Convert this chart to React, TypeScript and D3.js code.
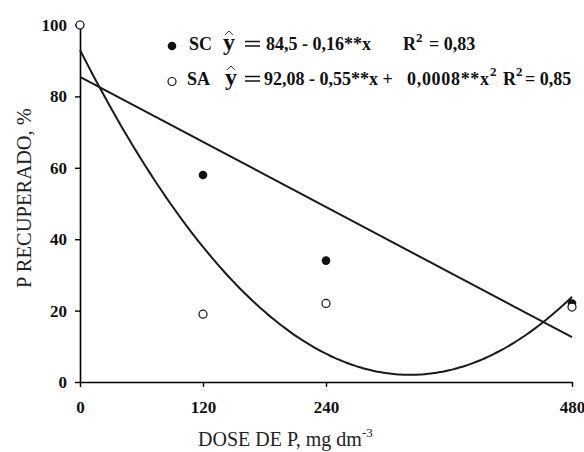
import { useEffect, useRef } from "react";
import * as d3 from "d3";

// doses (mg dm-3) and recovered P (%)
const doses = [0, 120, 240, 480];
const scValues = [100, 58, 34, 22];
const saValues = [100, 19, 22, 21];

const xTicks = [0, 120, 240, 480];
const yTicks = [0, 20, 40, 60, 80, 100];

// regression lines as drawn in the figure
const scFit = [85.5, -0.152]; // a + b*x
const saFit = [93, -0.565, 0.000877]; // a + b*x + c*x^2

const W = 584;
const H = 452;

const serif = "Liberation Serif, Times New Roman, serif";

const Hat = ({ x, y }: { x: number; y: number }) => (
  <path d={`M${x - 4},${y + 4} L${x},${y} L${x + 4},${y + 4}`} fill="none" stroke="#222" strokeWidth={0.9} />
);

// thin equals sign of the equation
const Equals = ({ x, y }: { x: number; y: number }) => (
  <path d={`M${x},${y} H${x + 15} M${x},${y + 4.5} H${x + 15}`} stroke="#111" strokeWidth={1.3} />
);

export default function App() {
  const ref = useRef<SVGGElement>(null);

  useEffect(() => {
    const g = d3.select(ref.current);
    g.selectAll("*").remove();

    const x = d3.scaleLinear().domain([0, 480]).range([80, 572]);
    const y = d3.scaleLinear().domain([0, 100]).range([382, 25]);

    // x axis
    const xAxis = g
      .append("g")
      .attr("transform", "translate(0," + y(0) + ")")
      .call(d3.axisBottom(x).tickValues(xTicks).tickSize(5).tickSizeOuter(0).tickPadding(14));
    xAxis.attr("font-family", serif);
    xAxis.select(".domain").attr("stroke-width", 1.6);
    xAxis.selectAll(".tick line").attr("stroke-width", 1.4);
    xAxis
      .selectAll(".tick text")
      .style("font-family", serif)
      .attr("font-weight", "bold")
      .attr("font-size", 17)
      .attr("fill", "#111");

    // y axis
    const yAxis = g
      .append("g")
      .attr("transform", "translate(" + x(0) + ",0)")
      .call(d3.axisLeft(y).tickValues(yTicks).tickSize(5).tickSizeOuter(0).tickPadding(8));
    yAxis.attr("font-family", serif);
    yAxis.select(".domain").attr("stroke-width", 1.6);
    yAxis.selectAll(".tick line").attr("stroke-width", 1.4);
    yAxis
      .selectAll(".tick text")
      .style("font-family", serif)
      .attr("font-weight", "bold")
      .attr("font-size", 17)
      .attr("fill", "#111");

    // fitted lines
    const xs = d3.range(0, 481, 4);
    const lin = d3
      .line<number>()
      .x((d) => x(d))
      .y((d) => y(scFit[0] + scFit[1] * d));
    const quad = d3
      .line<number>()
      .x((d) => x(d))
      .y((d) => y(saFit[0] + saFit[1] * d + saFit[2] * d * d))
      .curve(d3.curveBasis);

    g.append("path")
      .attr("d", lin([0, 480]) as string)
      .attr("fill", "none")
      .attr("stroke", "#1a1a1a")
      .attr("stroke-width", 2);
    g.append("path")
      .attr("d", quad(xs) as string)
      .attr("fill", "none")
      .attr("stroke", "#1a1a1a")
      .attr("stroke-width", 2);

    // points: SC filled underneath, SA hollow on top
    g.append("g")
      .selectAll("circle")
      .data(doses)
      .join("circle")
      .attr("cx", (d) => x(d))
      .attr("cy", (_, i) => y(scValues[i]))
      .attr("r", 4.3)
      .attr("fill", "#111");
    g.append("g")
      .selectAll("circle")
      .data(doses)
      .join("circle")
      .attr("cx", (d) => x(d))
      .attr("cy", (_, i) => y(saValues[i]))
      .attr("r", 4)
      .attr("fill", "white")
      .attr("stroke", "#111")
      .attr("stroke-width", 1.2);

    // axis titles
    g.append("text")
      .attr("x", 198)
      .attr("y", 446)
      .style("font-family", serif)
      .attr("font-size", 20)
      .attr("fill", "#222")
      .text("DOSE DE P, mg dm")
      .append("tspan")
      .attr("font-size", 13)
      .attr("dy", -9)
      .text("-3");

    g.append("text")
      .attr("transform", "translate(31,198) rotate(-90)")
      .attr("text-anchor", "middle")
      .style("font-family", serif)
      .attr("font-size", 20.5)
      .attr("fill", "#222")
      .text("P RECUPERADO, %");
  }, []);

  const b = { fontFamily: serif, fontWeight: "bold" as const, fill: "#111", fontSize: 18 };
  const sup = { fontFamily: serif, fontWeight: "bold" as const, fill: "#111", fontSize: 13 };

  return (
    <svg width={W} height={H} style={{ position: "absolute", left: 0, top: 0, background: "white" }}>
      <g ref={ref} />
      {/* legend row 1: SC */}
      <circle cx={172} cy={46} r={4.3} fill="#111" />
      <text x={189} y={50} style={b}>{"SC"}</text>
      <Hat x={229} y={31} />
      <text x={223} y={50} style={{ ...b, fontSize: 24 }}>{"y"}</text>
      <Equals x={245} y={41.5} />
      <text x={266} y={50} style={b}>{"84,5 - 0,16**x"}</text>
      <text x={403} y={50} style={b}>{"R"}</text>
      <text x={416} y={42} style={sup}>{"2"}</text>
      <text x={429} y={50} style={b}>{"= 0,83"}</text>
      {/* legend row 2: SA */}
      <circle cx={172} cy={81.5} r={4} fill="white" stroke="#111" strokeWidth={1.2} />
      <text x={187} y={85} style={b}>{"SA"}</text>
      <Hat x={231} y={66} />
      <text x={225} y={85} style={{ ...b, fontSize: 24 }}>{"y"}</text>
      <Equals x={245} y={76.5} />
      <text x={264} y={85} style={b}>{"92,08 - 0,55**x +"}</text>
      <text x={407} y={85} style={b} textLength={82} lengthAdjust="spacing">{"0,0008**x"}</text>
      <text x={490} y={76} style={sup}>{"2"}</text>
      <text x={503} y={85} style={b}>{"R"}</text>
      <text x={516} y={76} style={sup}>{"2"}</text>
      <text x={525} y={85} style={b}>{"= 0,85"}</text>
    </svg>
  );
}
